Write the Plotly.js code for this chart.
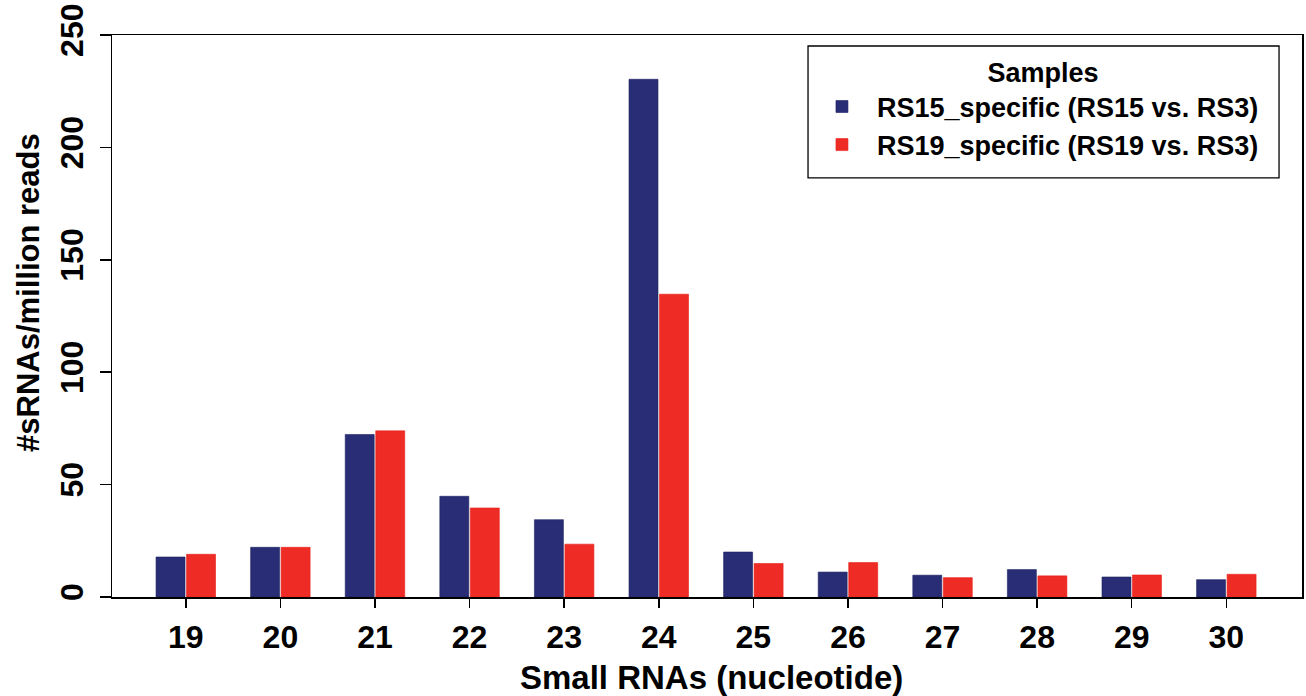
<!DOCTYPE html>
<html>
<head>
<meta charset="utf-8">
<script src="https://cdn.plot.ly/plotly-3.0.1.min.js"></script>
<style>
  html, body { margin: 0; padding: 0; background: #ffffff; }
  #chart { width: 1306px; height: 696px; }
</style>
</head>
<body>
<div id="chart"></div>
<script>
const lengths = [19, 20, 21, 22, 23, 24, 25, 26, 27, 28, 29, 30];
const rs15Specific = [17.8, 22.1, 72.3, 44.8, 34.4, 230.3, 20.0, 11.1, 9.7, 12.2, 8.9, 7.7];
const rs19Specific = [19.0, 22.1, 73.9, 39.6, 23.5, 134.7, 14.9, 15.3, 8.6, 9.4, 9.8, 10.1];
const seriesNames = ['RS15_specific (RS15 vs. RS3)', 'RS19_specific (RS19 vs. RS3)'];
const yTicks = [0, 50, 100, 150, 200, 250];
const xTitle = 'Small RNAs (nucleotide)';
const yTitle = '#sRNAs/million reads';
const legendTitle = 'Samples';

const font = 'Liberation Sans, Arial, sans-serif';
const pad = '\u00a0\u00a0';

const traces = [
  {
    type: 'bar', x: lengths, y: rs15Specific, name: pad + seriesNames[0],
    marker: { color: '#282d76', line: { color: '#1c2160', width: 0.6 } },
    hoverinfo: 'x+y'
  },
  {
    type: 'bar', x: lengths, y: rs19Specific, name: pad + seriesNames[1],
    marker: { color: '#ee2b24', line: { color: '#e82018', width: 0.6 } },
    hoverinfo: 'x+y'
  }
];

const layout = {
  width: 1306, height: 696,
  paper_bgcolor: '#ffffff', plot_bgcolor: '#ffffff',
  margin: { l: 112, r: 4, t: 35, b: 99 },
  barmode: 'group', bargap: 0.355, bargroupgap: 0.05,
  font: { family: font, color: '#000000' },
  showlegend: true,
  legend: {
    x: 0.5966, xanchor: 'left', y: 0.978, yanchor: 'top',
    borderwidth: 0, bgcolor: 'rgba(0,0,0,0)',
    font: { family: font, size: 27, color: '#000000', weight: 'bold' },
    title: { text: '<b>' + legendTitle + '</b>', side: 'top center', font: { family: font, size: 27, color: '#000000' } },
    tracegroupgap: 0
  },
  shapes: [
    {
      type: 'rect', xref: 'paper', yref: 'paper',
      x0: 0.5849, x1: 0.9807, y0: 0.7456, y1: 0.9804,
      line: { color: '#000000', width: 1.3 }, fillcolor: 'rgba(0,0,0,0)', layer: 'above'
    }
  ],
  annotations: [
    {
      text: '<b>' + xTitle + '</b>', xref: 'paper', yref: 'paper',
      x: 0.5034, y: -0.1441, xanchor: 'center', yanchor: 'middle', showarrow: false,
      font: { family: font, size: 33, color: '#000000' }
    },
    {
      text: '<b>' + yTitle + '</b>', xref: 'paper', yref: 'paper', textangle: -90,
      x: -0.0706, y: 0.5427, xanchor: 'center', yanchor: 'middle', showarrow: false,
      font: { family: font, size: 31, color: '#000000' }
    }
  ],
  xaxis: {
    range: [18.22, 30.8],
    tickmode: 'array', tickvals: lengths, ticktext: lengths.map(String),
    ticks: 'outside', ticklen: 9, tickwidth: 1.5, tickcolor: '#000000',
    showline: true, mirror: true, linecolor: '#000000', linewidth: 1.5,
    showgrid: false, zeroline: false,
    tickfont: { family: font, size: 32, color: '#000000', weight: 'bold' },
    ticklabelstandoff: 2
  },
  yaxis: {
    range: [0, 250],
    tickmode: 'array', tickvals: yTicks, ticktext: yTicks.map(String),
    ticks: 'outside', ticklen: 11, tickwidth: 1.5, tickcolor: '#000000',
    tickangle: -90,
    showline: true, mirror: true, linecolor: '#000000', linewidth: 1.5,
    showgrid: false, zeroline: false,
    tickfont: { family: font, size: 32, color: '#000000', weight: 'bold' },
    ticklabelstandoff: 4
  }
};

Plotly.newPlot('chart', traces, layout, { displayModeBar: false, staticPlot: true });
</script>
</body>
</html>
